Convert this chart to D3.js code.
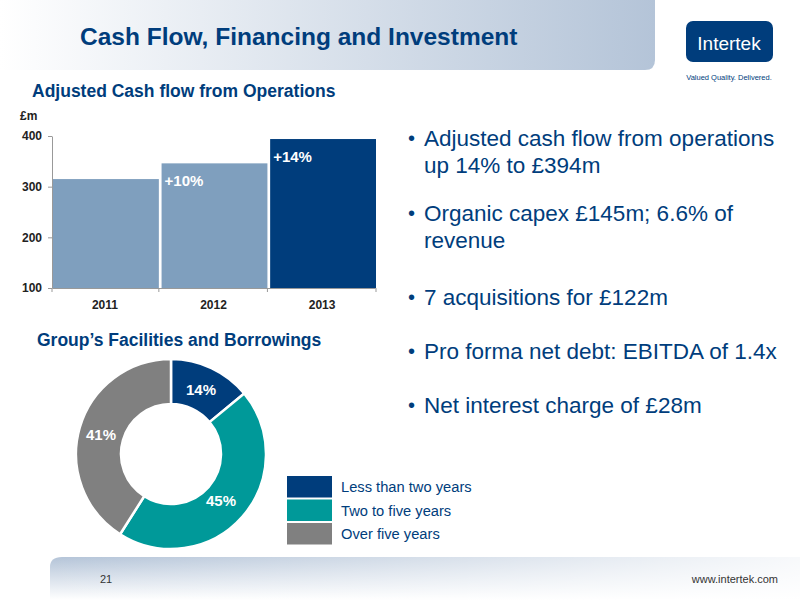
<!DOCTYPE html>
<html lang="en">
<head>
<meta charset="utf-8">
<script src="https://d3js.org/d3.v7.min.js"></script>
<style>
  body { margin:0; background:#fff; }
  text { font-family: "Liberation Sans", Arial, sans-serif; }
</style>
</head>
<body>
<script>
// data
var years = ["2011", "2012", "2013"];
var cashFlow = [315, 346, 394];
var growthLabels = ["", "+10%", "+14%"];
var yTicks = [100, 200, 300, 400];
var maturity = ["Less than two years", "Two to five years", "Over five years"];
var maturityShare = [14, 45, 41];
var maturityColors = ["#003d7c", "#009999", "#808080"];
var bullets = [
  ["Adjusted cash flow from operations", "up 14% to £394m"],
  ["Organic capex £145m; 6.6% of", "revenue"],
  ["7 acquisitions for £122m"],
  ["Pro forma net debt: EBITDA of 1.4x"],
  ["Net interest charge of £28m"]
];

var svg = d3.select("body").append("svg").attr("width", 800).attr("height", 600);
var defs = svg.append("defs");

// header band
var g1 = defs.append("linearGradient").attr("id", "hdr");
g1.append("stop").attr("offset", "0").attr("stop-color", "#ffffff");
g1.append("stop").attr("offset", "1").attr("stop-color", "#b4c4d8");
svg.append("path").attr("d", "M0,0 H655 V60 Q655,70 645,70 H0 Z").attr("fill", "url(#hdr)");
svg.append("text").attr("x", 80).attr("y", 45).attr("font-size", 24.5).attr("font-weight", "bold")
  .attr("fill", "#003d7c").text("Cash Flow, Financing and Investment");

// logo
svg.append("rect").attr("x", 686).attr("y", 21).attr("width", 87).attr("height", 41).attr("rx", 7).attr("fill", "#003d7c");
svg.append("text").attr("x", 729).attr("y", 50).attr("text-anchor", "middle").attr("font-size", 19)
  .attr("fill", "#fff").text("Intertek");
svg.append("text").attr("x", 729).attr("y", 80).attr("text-anchor", "middle").attr("font-size", 7.5)
  .attr("fill", "#003d7c").text("Valued Quality. Delivered.");

// footer band
var g2 = defs.append("linearGradient").attr("id", "ftr").attr("x1", 0).attr("y1", 0).attr("x2", 0).attr("y2", 1);
g2.append("stop").attr("offset", "0").attr("stop-color", "#b4c4d8");
g2.append("stop").attr("offset", "1").attr("stop-color", "#ffffff");
var g3 = defs.append("linearGradient").attr("id", "ftrh");
g3.append("stop").attr("offset", "0").attr("stop-color", "#fff").attr("stop-opacity", 0);
g3.append("stop").attr("offset", "1").attr("stop-color", "#fff").attr("stop-opacity", 0.9);
svg.append("path").attr("d", "M50,600 V567 Q50,557 62,557 H800 V600 Z").attr("fill", "url(#ftr)");
svg.append("rect").attr("x", 50).attr("y", 557).attr("width", 750).attr("height", 43).attr("fill", "url(#ftrh)");
svg.append("text").attr("x", 100).attr("y", 583).attr("font-size", 11).attr("fill", "#333").text("21");
svg.append("text").attr("x", 778).attr("y", 583).attr("text-anchor", "end").attr("font-size", 11).attr("fill", "#333").text("www.intertek.com");

// bar chart
svg.append("text").attr("x", 32).attr("y", 97).attr("font-size", 17.5).attr("font-weight", "bold")
  .attr("fill", "#003d7c").text("Adjusted Cash flow from Operations");
svg.append("text").attr("x", 20).attr("y", 120).attr("font-size", 12).attr("font-weight", "bold")
  .attr("fill", "#222").text("£m");

var x = d3.scaleBand().domain(years).range([52, 375]).paddingInner(0.025).paddingOuter(0);
var y = d3.scaleLinear().domain([100, 400]).range([288, 136]);

var yAxis = svg.append("g").attr("transform", "translate(52,0)")
  .call(d3.axisLeft(y).tickValues(yTicks).tickSize(4).tickSizeOuter(0));
var xAxis = svg.append("g").attr("transform", "translate(0,288)")
  .call(d3.axisBottom(x).tickSize(0));
xAxis.selectAll(".tick").append("line").attr("x1", x.bandwidth() / 2 + 1).attr("x2", x.bandwidth() / 2 + 1)
  .attr("y1", 0).attr("y2", 4).attr("stroke", "#999");
xAxis.append("line").attr("x1", 52).attr("x2", 52).attr("y1", 0).attr("y2", 4).attr("stroke", "#999");
[yAxis, xAxis].forEach(function (a) {
  a.selectAll("path.domain, line").attr("stroke", "#999");
  a.selectAll("text").attr("font-size", 12).attr("font-weight", "bold").attr("fill", "#222")
    .style("font-family", "'Liberation Sans', Arial, sans-serif");
});
xAxis.selectAll("text").attr("dy", "1.5em");
yAxis.selectAll("text").attr("x", -10);

svg.selectAll("rect.bar").data(cashFlow).enter().append("rect").attr("class", "bar")
  .attr("x", function (d, i) { return x(years[i]) + 1; })
  .attr("width", x.bandwidth())
  .attr("y", function (d) { return y(d); })
  .attr("height", function (d) { return y(100) - y(d); })
  .attr("fill", function (d, i) { return i === 2 ? "#003d7c" : "#7f9fbe"; });

svg.selectAll("text.growth").data(growthLabels).enter().append("text").attr("class", "growth")
  .attr("x", function (d, i) { return x(years[i]) + 4; })
  .attr("y", function (d, i) { return y(cashFlow[i]) + 23; })
  .attr("font-size", 15).attr("font-weight", "bold").attr("fill", "#fff").text(function (d) { return d; });

// donut
svg.append("text").attr("x", 37).attr("y", 346).attr("font-size", 17.5).attr("font-weight", "bold")
  .attr("fill", "#003d7c").text("Group’s Facilities and Borrowings");

var pie = d3.pie().sort(null).value(function (d) { return d; });
var arc = d3.arc().innerRadius(50).outerRadius(95);
var donut = svg.append("g").attr("transform", "translate(171,454)");
var arcs = pie(maturityShare);
donut.selectAll("path").data(arcs).enter().append("path")
  .attr("d", arc).attr("fill", function (d, i) { return maturityColors[i]; })
  .attr("stroke", "#fff").attr("stroke-width", 2.5);
var labelPos = [[30, -64], [50, 47], [-70, -19]];
donut.selectAll("text").data(arcs).enter().append("text")
  .attr("x", function (d, i) { return labelPos[i][0]; })
  .attr("y", function (d, i) { return labelPos[i][1]; })
  .attr("text-anchor", "middle").attr("dy", "0.35em")
  .attr("font-size", 15).attr("font-weight", "bold").attr("fill", "#fff")
  .text(function (d) { return d.data + "%"; });

// legend
var legend = svg.append("g").attr("transform", "translate(287,476)");
maturity.forEach(function (m, i) {
  legend.append("rect").attr("x", 0).attr("y", i * 23.5).attr("width", 45).attr("height", 21.5).attr("fill", maturityColors[i]);
  legend.append("text").attr("x", 54).attr("y", i * 23.5 + 16).attr("font-size", 14.7).attr("fill", "#003d7c").text(m);
});

// bullets
var by = [146, 221, 305, 359, 413];
bullets.forEach(function (lines, i) {
  svg.append("text").attr("x", 408).attr("y", by[i] - 1).attr("font-size", 20).attr("fill", "#003d7c").text("•");
  lines.forEach(function (l, j) {
    svg.append("text").attr("x", 424).attr("y", by[i] + j * 26.5).attr("font-size", 22.5)
      .attr("fill", "#003d7c").text(l);
  });
});
</script>
</body>
</html>
